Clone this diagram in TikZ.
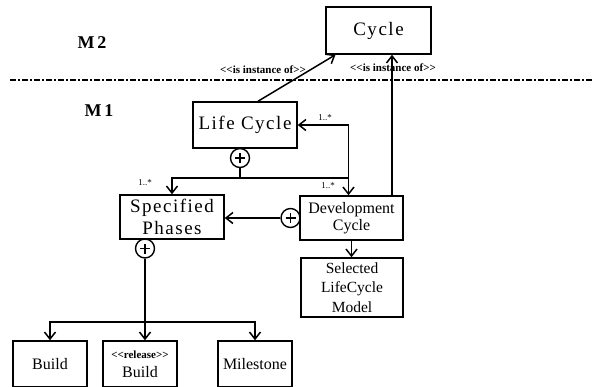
\documentclass[tikz,border=0pt]{standalone}
\usepackage{fontspec}
\setmainfont{Liberation Serif}
\newfontfamily\wide[LetterSpace=8]{Liberation Serif}
\usetikzlibrary{calc,arrows.meta}
\tikzset{
	cls/.style={draw, line width=1.5pt, inner sep=0pt, align=center},
	arr/.style={line width=1.5pt, -{Straight Barb[length=7pt,width=11pt]}},
	link/.style={line width=1.5pt},
	hole/.style={circle, draw, line width=1.4pt, minimum size=19pt, inner sep=0pt, fill=white,
		path picture={\draw[line width=1.2pt] (path picture bounding box.center) +(-5pt,0) -- +(5pt,0) +(0,-5pt) -- +(0,5pt);}},
	mult/.style={font=\fontsize{9}{10}\selectfont},
	stereo/.style={font=\fontsize{11}{12}\selectfont\bfseries},
	level/.style={font=\fontsize{18}{20}\selectfont\bfseries}
}

\begin{document}
\begin{tikzpicture}[x=1pt,y=-1pt]
		%%%%% START %%%%%
		\clip (0,0) rectangle (594,386);
		\fill[white] (0,0) rectangle (594,386);
		
		\node[level] (m2) at (92,43) {M\,2};
		\node[level] (m1) at (99,111) {M\,1};
		\draw[line width=1.4pt, dash pattern=on 6pt off 2pt on 2pt off 2pt] (10,80) -- (594,80);
		
		\node[cls, minimum width=105pt, minimum height=47pt, font=\wide\fontsize{19}{22}\selectfont] (cyc) at (378.5,30.5) {Cycle};
		\node[cls, minimum width=104pt, minimum height=46pt, font=\wide\fontsize{19}{22}\selectfont] (lc) at (245,125) {Life Cycle};
		\node[cls, minimum width=104pt, minimum height=44pt, font=\wide\fontsize{19}{22}\selectfont] (sp) at (172,217) {Specified\\Phases};
		\node[cls, minimum width=103pt, minimum height=44pt, font=\fontsize{16}{17}\selectfont] (dc) at (351.5,218) {Development\\Cycle};
		\node[cls, minimum width=102pt, minimum height=59pt, font=\fontsize{15.5}{19.5}\selectfont] (slm) at (352,287.5) {Selected\\LifeCycle\\Model};
		
		\node[cls, minimum width=74pt, minimum height=46pt, font=\fontsize{16}{18}\selectfont] (b1) at (50,364) {Build};
		\node[cls, minimum width=74pt, minimum height=46pt, font=\fontsize{16}{18}\selectfont] (b2) at (140,364) {{\fontsize{11}{12}\selectfont\bfseries <{}<release>{}>}\\[1pt]Build};
		\node[cls, minimum width=74pt, minimum height=46pt, font=\fontsize{16}{18}\selectfont] (ms) at (255,364) {Milestone};
		
		\node[stereo] (s1) at (263,70) {<{}<is instance of>{}>};
		\node[stereo] (s2) at (393,68) {<{}<is instance of>{}>};
		\node[mult] (n1) at (145,183) {1..*};
		\node[mult] (n2) at (328,186) {1..*};
		\node[mult] (n3) at (325,118) {1..*};
		
		% instance of
		\draw[arr] ($(lc.north)+(13,0)$) -- ($(cyc.south)+(-43,0)$);
		\draw[arr] ($(dc.north)+(40.5,0)$) -- ($(cyc.south)+(13.5,0)$);
		
		% life cycle parts
		\node[hole] (o1) at (240,158) {};
		\coordinate (j1) at (240,178);
		\coordinate (j2) at (348.5,178);
		\draw[link] (o1) -- (j1);
		\draw[arr] (j1) -| (sp.north);
		\draw[arr] (j1) -- (j2) -- (j2 |- dc.north);
		\draw[arr] (j2) |- (lc.east);
		
		% development cycle
		\node[hole] (o2) at (290.5,218) {};
		\draw[arr] (o2.west) -- (o2.west -| sp.east);
		\draw[arr] (dc.south) -- (dc.south |- slm.north);
		
		% phases
		\node[hole] (o3) at (145,248.5) {};
		\coordinate (j3) at (145,322);
		\draw[link] (o3) -- (j3);
		\draw[arr] (j3) -| (b1.north);
		\draw[arr] (j3) -- (j3 |- b2.north);
		\draw[arr] (j3) -| (ms.north);
		%%%%% END %%%%%
\end{tikzpicture}
\end{document}
